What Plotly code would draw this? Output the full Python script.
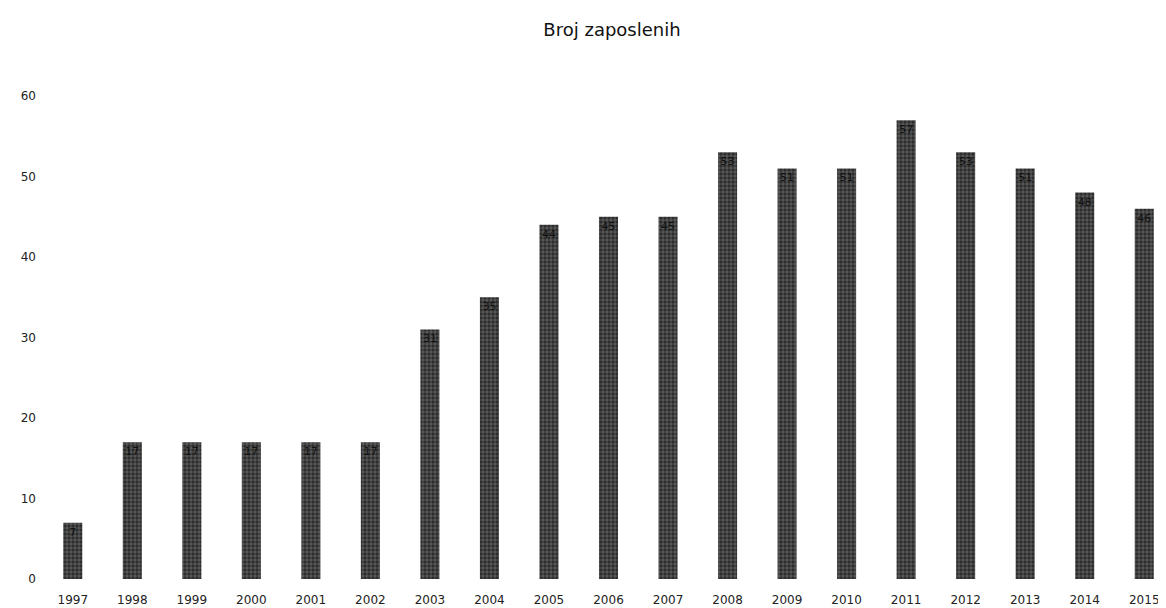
import plotly.graph_objects as go

years = ["1997", "1998", "1999", "2000", "2001", "2002", "2003", "2004", "2005", "2006",
         "2007", "2008", "2009", "2010", "2011", "2012", "2013", "2014", "2015"]
employees = [7, 17, 17, 17, 17, 17, 31, 35, 44, 45, 45, 53, 51, 51, 57, 53, 51, 48, 46]

fig = go.Figure(go.Bar(
    x=years,
    y=employees,
    text=employees,
    textposition="inside",
    insidetextanchor="end",
    textangle=0,
    constraintext="none",
    textfont=dict(family="DejaVu Sans", size=11, color="#111111"),
    marker=dict(color="#3a3a3a",
                pattern=dict(shape=".", fgcolor="#000000", bgcolor="#5a5a5a", solidity=0.55, size=4),
                line=dict(width=0)),
    width=0.32,
))

fig.update_layout(
    width=1166, height=608,
    margin=dict(l=35, r=0, t=88, b=37),
    paper_bgcolor="white", plot_bgcolor="white",
    title=dict(text="Broj zaposlenih", x=604 / 1166, xanchor="center", y=0.975, yanchor="top",
               font=dict(family="DejaVu Sans", size=18, color="#111111")),
    font=dict(family="DejaVu Sans", size=12, color="#333333"),
    showlegend=False,
    xaxis=dict(showgrid=False, showline=False, zeroline=False, ticks="", automargin=False,
               ticklabelstandoff=12, tickfont=dict(family="DejaVu Sans", size=12, color="#222222")),
    yaxis=dict(range=[0, 60], dtick=10, showgrid=False, showline=False, zeroline=False,
               ticks="", automargin=False, ticklabelstandoff=6,
               tickfont=dict(family="DejaVu Sans", size=12, color="#222222")),
)

fig.write_html("out.html")
